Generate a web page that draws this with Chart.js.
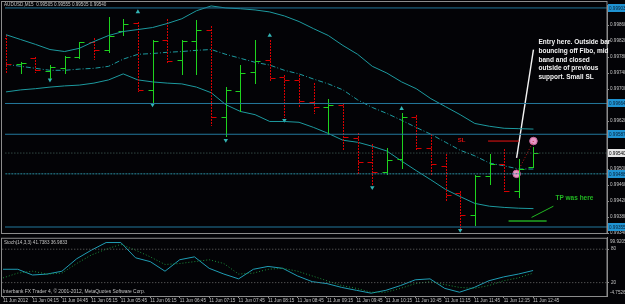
<!DOCTYPE html>
<html>
<head>
<meta charset="utf-8">
<script src="https://cdn.jsdelivr.net/npm/chart.js@4.4.0/dist/chart.umd.min.js"></script>
<style>
  html, body { margin: 0; padding: 0; background: #000; }
  #wrap { position: relative; width: 625px; height: 304px; overflow: hidden; background: #030306; }
  #price { position: absolute; left: 0; top: 0; }
  #stoch { position: absolute; left: 0; top: 233px; }
</style>
</head>
<body>
<div id="wrap">
  <canvas id="price" width="625" height="240"></canvas>
  <canvas id="stoch" width="625" height="71"></canvas>
</div>
<script>
// AUDUSD M15, 11 Jun 2012
const times = ["03:45","04:00","04:15","04:30","04:45","05:00","05:15","05:30","05:45",
  "06:00","06:15","06:30","06:45","07:00","07:15","07:30","07:45","08:00","08:15","08:30",
  "08:45","09:00","09:15","09:30","09:45","10:00","10:15","10:30","10:45","11:00","11:15",
  "11:30","11:45","12:00","12:15","12:30","12:45"];

const open  = [0.99829,0.99762,0.99777,0.99745,0.99752,0.99780,0.99817,0.99797,0.99846,0.99866,
  0.99698,0.99822,0.99772,0.99820,0.99849,0.99629,0.99696,0.99743,0.99772,0.99730,0.99723,
  0.99668,0.99656,0.99659,0.99577,0.99518,0.99493,0.99525,0.99631,0.99552,0.99508,0.99439,
  0.99384,0.99483,0.99513,0.99446,0.99505];
const high  = [0.99836,0.99767,0.99780,0.99760,0.99782,0.99819,0.99829,0.99881,0.99876,0.99868,
  0.99822,0.99876,0.99822,0.99873,0.99859,0.99705,0.99760,0.99822,0.99822,0.99735,0.99735,
  0.99715,0.99676,0.99664,0.99589,0.99562,0.99552,0.99639,0.99636,0.99587,0.99538,0.99446,
  0.99486,0.99538,0.99550,0.99525,0.99555];
const low   = [0.99743,0.99740,0.99743,0.99728,0.99740,0.99777,0.99775,0.99794,0.99836,0.99696,
  0.99668,0.99767,0.99738,0.99738,0.99609,0.99582,0.99644,0.99715,0.99723,0.99629,0.99654,
  0.99639,0.99587,0.99547,0.99488,0.99461,0.99488,0.99503,0.99550,0.99488,0.99421,0.99352,
  0.99360,0.99463,0.99444,0.99431,0.99505];
const close = [0.99762,0.99765,0.99747,0.99755,0.99780,0.99817,0.99797,0.99834,0.99864,0.99698,
  0.99820,0.99770,0.99820,0.99849,0.99631,0.99698,0.99740,0.99770,0.99728,0.99723,0.99671,
  0.99656,0.99659,0.99580,0.99518,0.99493,0.99523,0.99631,0.99552,0.99513,0.99434,0.99384,
  0.99483,0.99513,0.99446,0.99500,0.99540];

const bbUpper  = [0.99836,0.99824,0.99812,0.99799,0.99794,0.99802,0.99819,0.99834,0.99844,0.99849,
  0.99854,0.99864,0.99876,0.99896,0.99908,0.99903,0.99901,0.99898,0.99893,0.99883,0.99869,
  0.99851,0.99834,0.99809,0.99787,0.99757,0.99740,0.99718,0.99701,0.99676,0.99656,0.99636,
  0.99614,0.99607,0.99602,0.99601,0.99600];
const bbMiddle = [0.99762,0.99757,0.99752,0.99747,0.99747,0.99750,0.99752,0.99757,0.99775,0.99787,
  0.99789,0.99792,0.99794,0.99797,0.99799,0.99787,0.99777,0.99767,0.99760,0.99747,0.99738,
  0.99725,0.99713,0.99698,0.99673,0.99654,0.99639,0.99622,0.99604,0.99587,0.99567,0.99547,
  0.99533,0.99515,0.99508,0.99500,0.99500];
const bbLower  = [0.99693,0.99698,0.99701,0.99705,0.99708,0.99710,0.99715,0.99723,0.99738,0.99723,
  0.99718,0.99715,0.99713,0.99705,0.99691,0.99661,0.99644,0.99636,0.99619,0.99619,0.99617,
  0.99604,0.99589,0.99572,0.99567,0.99557,0.99545,0.99520,0.99496,0.99473,0.99449,0.99431,
  0.99414,0.99407,0.99404,0.99402,0.99401];

const fractalUpBars = [9, 18, 27];
const fractalUpPrices = [0.99893, 0.99834, 0.99651];
const fractalDownBars = [3, 10, 15, 19, 25, 31];
const fractalDownPrices = [0.99723, 0.99661, 0.99572, 0.99622, 0.99454, 0.99347];

const stochMain   = [44,44,33.7,35.4,40.5,62.8,78.3,92,92,64.6,57.7,40.5,61.1,66.3,45.7,35.4,26.8,
  44,49.1,45.7,32,21.7,18.3,11.4,6.2,1.1,6.2,14.8,25.1,26.8,9.7,2.8,11.4,23.4,30.3,35.4,41.74];
const stochSignal = [28.5,37.1,40.5,35.4,37.1,54.3,69.7,80,88.6,78.3,66.3,52.6,54.3,57.7,61.1,54.3,
  35.4,37.1,44,45.7,40.5,32,23.4,14.8,9.7,2.8,2.8,9.7,18.3,21.7,16.5,11.4,9.7,14.8,23.4,28.5,36.98];

const priceTicks = [0.9986,0.9982,0.9978,0.9974,0.9970,0.9966,0.9962,0.9958,0.9954,0.9950,
  0.9946,0.9942,0.9938,0.9934];
const levels = [0.99903, 0.99664, 0.99587, 0.99355];
const entryLevel = 0.99488;
const bid = 0.99540;
const stochLevels = [80, 20];
const timeTickBars = [0,2,4,6,8,10,12,14,16,18,20,22,24,26,28,30,32,34,36];
const timeLabels = ["11 Jun 2012","11 Jun 04:15","11 Jun 04:45","11 Jun 05:15","11 Jun 05:45",
  "11 Jun 06:15","11 Jun 06:45","11 Jun 07:15","11 Jun 07:45","11 Jun 08:15","11 Jun 08:45",
  "11 Jun 09:15","11 Jun 09:45","11 Jun 10:15","11 Jun 10:45","11 Jun 11:15","11 Jun 11:45",
  "11 Jun 12:15","11 Jun 12:45"];

// trade marks: [bar, price]
const entryMark = [34.85, 0.99488];
const exitMark = [36.0, 0.99570];
const slLine = [[32.9, 0.99570], [35.0, 0.99570]];
const tpLine = [[34.3, 0.99370], [36.9, 0.99370]];
const tpPointer = [[35.87, 0.99379], [37.36, 0.99407]];
const notePointer = [[36.0, 0.99799], [34.85, 0.99528]];
const noteAnchor = [36.34, 0.99817];
const noteLines = ["Entry here. Outside bar", "bouncing off Fibo, mid", "band and closed",
  "outside of previous", "support. Small SL"];
const slLabel = [31.1, 0.99572];
const tpLabel = [37.5, 0.99426];

const X_MIN = -0.07, X_MAX = 41.02;
const GRAY = '#8c8c8c';
const TXT = '#c4c4c4';
const BAND = '#1d9a9f';
const small = { family: 'Liberation Sans', size: 4.6 };

const pts = vals => vals.map((v, i) => ({ x: i, y: v }));
const hline = v => [{ x: X_MIN - 1, y: v }, { x: X_MAX + 1, y: v }];
const seg = p => p.map(([x, y]) => ({ x, y }));
const lineDs = (data, color, extra) => Object.assign({
  type: 'line', data, borderColor: color, borderWidth: 1, pointRadius: 0, fill: false, tension: 0
}, extra || {});

const BARS_AFTER = 7; // dataset index after which OHLC bars are drawn

const ohlcPlugin = {
  id: 'ohlc',
  afterDatasetDraw(chart, args) {
    if (args.index !== BARS_AFTER) return;
    const { ctx, scales: { x, y }, chartArea } = chart;
    ctx.save();
    ctx.beginPath();
    ctx.rect(chartArea.left, chartArea.top, chartArea.width, chartArea.height);
    ctx.clip();
    ctx.lineWidth = 1;
    for (let i = 0; i < close.length; i++) {
      const up = close[i] >= open[i];
      const px = Math.round(x.getPixelForValue(i)) + 0.5;
      ctx.strokeStyle = up ? '#1ed21e' : '#d80000';
      ctx.setLineDash(up ? [] : [2, 1]);
      ctx.beginPath();
      ctx.moveTo(px, Math.round(y.getPixelForValue(high[i])));
      ctx.lineTo(px, Math.round(y.getPixelForValue(low[i])) + 1);
      ctx.stroke();
      ctx.setLineDash([]);
      const yo = Math.round(y.getPixelForValue(open[i])) + 0.5;
      const yc = Math.round(y.getPixelForValue(close[i])) + 0.5;
      ctx.beginPath();
      ctx.moveTo(px - 5, yo); ctx.lineTo(px, yo);
      ctx.moveTo(px, yc); ctx.lineTo(px + 5, yc);
      ctx.stroke();
    }
    ctx.restore();
  }
};

const priceText = {
  id: 'priceText',
  afterDraw(chart) {
    const { ctx, scales: { x, y }, chartArea } = chart;
    ctx.save();
    // frame
    ctx.strokeStyle = GRAY; ctx.lineWidth = 1;
    ctx.strokeRect(1.5, 1.5, chartArea.right - 1.5, chartArea.bottom - 1);
    // title
    ctx.fillStyle = TXT; ctx.font = '4.6px "Liberation Sans"'; ctx.textBaseline = 'middle';
    ctx.fillText('AUDUSD,M15  0.99505 0.99555 0.99505 0.99540', 4, 4.5);
    // level labels on the price axis
    const tag = (v, bg, fg) => {
      const py = Math.round(y.getPixelForValue(v));
      ctx.fillStyle = bg; ctx.fillRect(chartArea.right + 1, py - 4, 17, 8);
      ctx.fillStyle = fg; ctx.font = '4.6px "Liberation Sans"';
      ctx.fillText(v.toFixed(5), chartArea.right + 2, py + 0.5);
    };
    levels.forEach(v => tag(v, '#1f93d2', '#0b2236'));
    tag(entryLevel, '#1f93d2', '#0b2236');
    tag(bid, '#e6e6e6', '#000');
    // notes
    ctx.fillStyle = '#f2f2f2'; ctx.font = 'bold 6.5px "Liberation Sans"';
    const nx = x.getPixelForValue(noteAnchor[0]), ny = y.getPixelForValue(noteAnchor[1]);
    noteLines.forEach((t, k) => ctx.fillText(t, nx, ny + k * 8.7));
    ctx.fillStyle = '#e01010'; ctx.font = 'bold 6px "Liberation Sans"'; ctx.textAlign = 'center';
    ctx.fillText('SL', x.getPixelForValue(slLabel[0]), y.getPixelForValue(slLabel[1]));
    ctx.fillStyle = '#22b822'; ctx.font = 'bold 6.5px "Liberation Sans"'; ctx.textAlign = 'left';
    ctx.fillText('TP was here', x.getPixelForValue(tpLabel[0]), y.getPixelForValue(tpLabel[1]));
    ctx.restore();
  }
};

new Chart(document.getElementById('price'), {
  type: 'line',
  data: {
    datasets: [
      ...levels.map(v => lineDs(hline(v), '#23789c')),
      lineDs(hline(entryLevel), '#2b8ea2', { borderDash: [2, 1] }),
      lineDs(hline(bid), '#4a6a62', { borderDash: [1, 2] }),
      lineDs(pts(bbUpper), BAND),
      lineDs(pts(bbMiddle), BAND, { borderDash: [5, 2, 1, 2] }), // index 7
      lineDs(pts(bbLower), BAND),
      { type: 'scatter', data: fractalUpBars.map((b, k) => ({ x: b, y: fractalUpPrices[k] })),
        pointStyle: 'triangle', pointRadius: 2.6, backgroundColor: '#33b4b4', borderWidth: 0 },
      { type: 'scatter', data: fractalDownBars.map((b, k) => ({ x: b, y: fractalDownPrices[k] })),
        pointStyle: 'triangle', rotation: 180, pointRadius: 2.6, backgroundColor: '#33b4b4', borderWidth: 0 },
      lineDs(seg(slLine), '#b81010', { borderWidth: 1.3 }),
      lineDs(seg(tpLine), '#22a822', { borderWidth: 1.3 }),
      lineDs(seg(tpPointer), '#22b822', { borderWidth: 1 }),
      lineDs(seg([entryMark, exitMark]), '#c01818', { borderDash: [1, 2] }),
      lineDs(seg(notePointer), '#f4f4f4', { borderWidth: 1.4 }),
      { type: 'scatter', data: seg([entryMark, exitMark]), pointRadius: 3.8,
        backgroundColor: '#e896c4', borderColor: '#c4679c', borderWidth: 1 }
    ]
  },
  options: {
    responsive: false, animation: false,
    layout: { padding: { left: 2, top: 2, right: 0, bottom: 7 } },
    plugins: { legend: { display: false }, tooltip: { enabled: false } },
    scales: {
      x: { type: 'linear', min: X_MIN, max: X_MAX, display: false },
      y: {
        position: 'right', min: 0.9934, max: 0.9991037,
        afterFit(s) { s.width = 18; },
        afterBuildTicks(s) { s.ticks = priceTicks.map(v => ({ value: v })); },
        ticks: { color: TXT, font: small, padding: 1, autoSkip: false, callback: v => v.toFixed(5) },
        grid: { drawOnChartArea: false, color: GRAY, tickLength: 2 },
        border: { color: GRAY }
      }
    }
  },
  plugins: [ohlcPlugin, priceText]
});

const stochText = {
  id: 'stochText',
  afterDraw(chart) {
    const { ctx, chartArea } = chart;
    ctx.save();
    ctx.strokeStyle = GRAY; ctx.lineWidth = 1;
    ctx.strokeRect(1.5, chartArea.top + 0.5, chartArea.right - 1.5, chartArea.height);
    ctx.fillStyle = TXT; ctx.font = '4.6px "Liberation Sans"'; ctx.textBaseline = 'middle';
    ctx.fillText('Stoch(14,3,3) 41.7383 36.9833', 4, chartArea.top + 5);
    ctx.font = '4.9px "Liberation Sans"';
    ctx.fillText('Interbank FX Trader 4, \u00a9 2001-2012, MetaQuotes Software Corp.', 3, chartArea.bottom - 4);
    ctx.font = '4.6px "Liberation Sans"';
    ctx.fillText('99.9205', chartArea.right + 3, chartArea.top + 4);
    ctx.fillText('-4.7526', chartArea.right + 3, chartArea.bottom - 3);
    ctx.restore();
  }
};

new Chart(document.getElementById('stoch'), {
  type: 'line',
  data: {
    datasets: [
      ...stochLevels.map(v => lineDs(hline(v), '#6c6c6c', { borderDash: [1, 2] })),
      lineDs(pts(stochSignal), '#1c8f3c', { borderDash: [1, 2] }),
      lineDs(pts(stochMain), '#1f9db4')
    ]
  },
  options: {
    responsive: false, animation: false,
    layout: { padding: { left: 2, top: 2, right: 0, bottom: 0 } },
    plugins: { legend: { display: false }, tooltip: { enabled: false } },
    scales: {
      x: {
        type: 'linear', min: X_MIN, max: X_MAX, position: 'bottom',
        afterFit(s) { s.height = 8; },
        afterBuildTicks(s) { s.ticks = timeTickBars.map(v => ({ value: v })); },
        ticks: { autoSkip: false, maxRotation: 0, align: 'start', color: TXT, font: small, padding: 0,
          callback: v => timeLabels[timeTickBars.indexOf(v)] },
        grid: { drawOnChartArea: false, color: GRAY, tickLength: 2 },
        border: { color: GRAY }
      },
      y: {
        position: 'right', min: -4.0, max: 100.57,
        afterFit(s) { s.width = 18; },
        afterBuildTicks(s) { s.ticks = stochLevels.map(v => ({ value: v })); },
        ticks: { color: TXT, font: small, padding: 2, callback: v => String(v) },
        grid: { drawOnChartArea: false, color: GRAY, tickLength: 2 },
        border: { color: GRAY }
      }
    }
  },
  plugins: [stochText]
});
</script>
</body>
</html>
